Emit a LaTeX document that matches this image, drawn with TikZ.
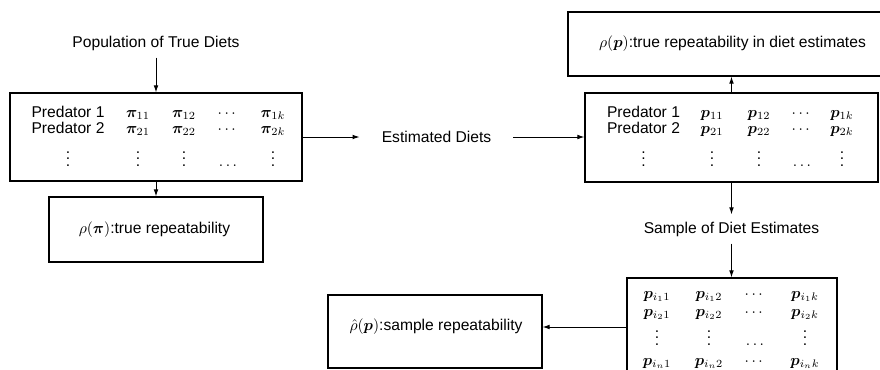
\documentclass[tikz,border=0pt]{standalone}
\usepackage[no-math]{fontspec}
\usepackage{amsmath,bm}
\newfontfamily\labelfont{Liberation Sans}
\usetikzlibrary{arrows.meta,fit}
\begin{document}
\begin{tikzpicture}[x=0.64pt,y=-0.64pt,
  box/.style={draw, line width=0.75pt, inner sep=0pt},
  lbl/.style={font=\labelfont, inner sep=4.5pt},
  cell/.style={anchor=base, inner sep=0pt, font=\labelfont},
  conn/.style={-{Latex[length=4.5pt,width=3pt]}, line width=0.6pt}]
\useasboundingbox (0,0) rectangle (880,369);
\clip (0,0) rectangle (880,369);

% frames
\node[box, fit={(10,93) (302,181)}] (trueM) {};
\node[box, fit={(49,197) (263,262)}] (rhopi) {};
\node[box, fit={(568,12) (897,76)}] (rhop) {};
\node[box, fit={(585,93) (878,182)}] (estM) {};
\node[box, fit={(627,278) (837,400)}] (sampM) {};
\node[box, fit={(328,295) (542,368)}] (rhohat) {};

% texts of the frames and free labels
\node[lbl] (rhopilbl) at (154.5,230) {$\rho(\bm{\pi})$:true repeatability};
\node[lbl] (rhoplbl) at (732.5,44) {$\rho(\bm{p})$:true repeatability in diet estimates};
\node[lbl] (rhohatlbl) at (436,327) {$\hat{\rho}(\bm{p})$:sample repeatability};
\node[lbl] (pop) at (156,43) {Population of True Diets};
\node[lbl, inner xsep=14pt] (est) at (436.5,137) {Estimated Diets};
\node[lbl] (sample) at (731.5,229) {Sample of Diet Estimates};

% true diet matrix
\node[cell] (tp1) at (68,117) {Predator 1};
\node[cell] (tp2) at (68,133) {Predator 2};
\node[cell] (tp3) at (68,166) {$\vdots$};
\foreach \x/\e [count=\c] in {138/{\bm{\pi}_{11}},184/{\bm{\pi}_{12}},228/{\cdots},273/{\bm{\pi}_{1k}}}
  \node[cell] (ta\c) at (\x,117) {$\e$};
\foreach \x/\e [count=\c] in {138/{\bm{\pi}_{21}},184/{\bm{\pi}_{22}},228/{\cdots},273/{\bm{\pi}_{2k}}}
  \node[cell] (tb\c) at (\x,133) {$\e$};
\foreach \x/\e [count=\c] in {138/{\vdots},184/{\vdots},228/{\ldots},273/{\vdots}}
  \node[cell] (tc\c) at (\x,166) {$\e$};

% estimated diet matrix
\node[cell] (ep1) at (643.5,117) {Predator 1};
\node[cell] (ep2) at (643.5,133) {Predator 2};
\node[cell] (ep3) at (643.5,166) {$\vdots$};
\foreach \x/\e [count=\c] in {712/{\bm{p}_{11}},759/{\bm{p}_{12}},802/{\cdots},842/{\bm{p}_{1k}}}
  \node[cell] (ea\c) at (\x,117) {$\e$};
\foreach \x/\e [count=\c] in {712/{\bm{p}_{21}},759/{\bm{p}_{22}},802/{\cdots},842/{\bm{p}_{2k}}}
  \node[cell] (eb\c) at (\x,133) {$\e$};
\foreach \x/\e [count=\c] in {712/{\vdots},759/{\vdots},802/{\ldots},842/{\vdots}}
  \node[cell] (ec\c) at (\x,166) {$\e$};

% sample matrix
\foreach \x/\e [count=\c] in {657/{\bm{p}_{i_11}},709/{\bm{p}_{i_12}},755/{\cdots},805/{\bm{p}_{i_1k}}}
  \node[cell] (sa\c) at (\x,298) {$\e$};
\foreach \x/\e [count=\c] in {657/{\bm{p}_{i_21}},709/{\bm{p}_{i_22}},755/{\cdots},805/{\bm{p}_{i_2k}}}
  \node[cell] (sb\c) at (\x,316) {$\e$};
\foreach \x/\e [count=\c] in {657/{\vdots},709/{\vdots},755/{\ldots},805/{\vdots}}
  \node[cell] (sc\c) at (\x,345) {$\e$};
\foreach \x/\e [count=\c] in {657/{\bm{p}_{i_n1}},709/{\bm{p}_{i_n2}},755/{\cdots},805/{\bm{p}_{i_nk}}}
  \node[cell] (sd\c) at (\x,365) {$\e$};

% connectors
\draw[conn] (pop.south) -- (pop.south |- trueM.north);
\draw[conn] (trueM.south) -- (trueM.south |- rhopi.north);
\draw[conn] (trueM.east |- est.west) -- (est.west);
\draw[conn] (est.east) -- (est.east -| estM.west);
\draw[conn] (estM.north) -- (estM.north |- rhop.south);
\draw[conn] (estM.south) -- (estM.south |- sample.north);
\draw[conn] (sample.south) -- (sample.south |- sampM.north);
\draw[conn] (sampM.west |- rhohatlbl) -- (rhohat.east |- rhohatlbl);
\end{tikzpicture}
\end{document}
